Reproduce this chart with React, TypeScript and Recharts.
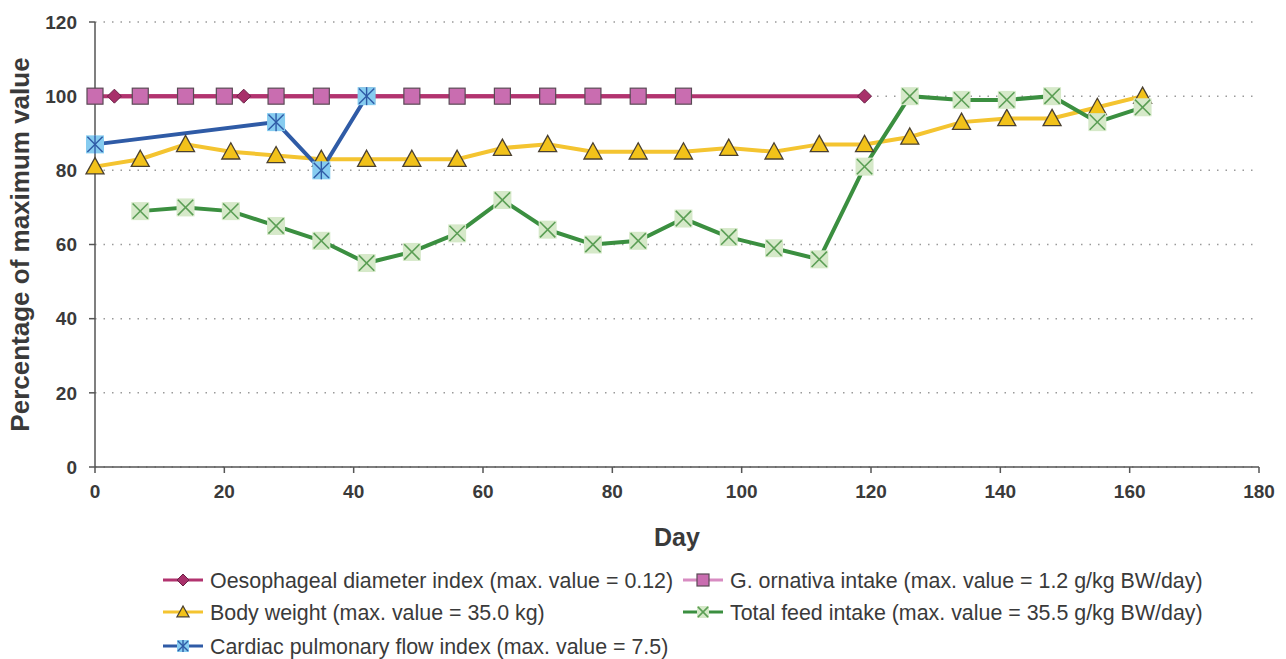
import { LineChart, Line, XAxis, YAxis, CartesianGrid } from 'recharts';

// days and % of max value
const oesDays = [3, 23, 119];
const oesValues = [100, 100, 100];

const ornDays = [0, 7, 14, 20, 28, 35, 42, 49, 56, 63, 70, 77, 84, 91];
const ornValues = [100, 100, 100, 100, 100, 100, 100, 100, 100, 100, 100, 100, 100, 100];

const bwDays = [0, 7, 14, 21, 28, 35, 42, 49, 56, 63, 70, 77, 84, 91, 98, 105, 112, 119, 126, 134, 141, 148, 155, 162];
const bwValues = [81, 83, 87, 85, 84, 83, 83, 83, 83, 86, 87, 85, 85, 85, 86, 85, 87, 87, 89, 93, 94, 94, 97, 100];

const tfiDays = [7, 14, 21, 28, 35, 42, 49, 56, 63, 70, 77, 84, 91, 98, 105, 112, 119, 126, 134, 141, 148, 155, 162];
const tfiValues = [69, 70, 69, 65, 61, 55, 58, 63, 72, 64, 60, 61, 67, 62, 59, 56, 81, 100, 99, 99, 100, 93, 97];

const cpfDays = [0, 28, 35, 42];
const cpfValues = [87, 93, 80, 100];

const xTicks = [0, 20, 40, 60, 80, 100, 120, 140, 160, 180];
const yTicks = [0, 20, 40, 60, 80, 100, 120];

const legendLabels = [
  'Oesophageal diameter index (max. value = 0.12)',
  'G. ornativa intake (max. value = 1.2 g/kg BW/day)',
  'Body weight (max. value = 35.0 kg)',
  'Total feed intake (max. value = 35.5 g/kg BW/day)',
  'Cardiac pulmonary flow index (max. value = 7.5)',
];

const toRows = (days: number[], values: number[]) =>
  days.map((day, i) => ({ day, value: values[i] }));

const FONT = '"Liberation Sans", Arial, sans-serif';
const TEXT = '#3a3a3a';

const C = {
  oes: '#b2336f',
  oesFill: '#a8306a',
  orn: '#d88cc2',
  ornFill: '#c96db0',
  bw: '#f4c430',
  bwFill: '#f2c21a',
  tfi: '#3b8f40',
  tfiFill: '#d6e9c9',
  tfiX: '#5b9e55',
  cpf: '#2f5ba6',
  cpfFill: '#86ccf0',
};

function Diamond({ cx, cy, s = 7 }: any) {
  if (cx == null || cy == null) return null;
  return (
    <polygon
      points={`${cx},${cy - s} ${cx + s},${cy} ${cx},${cy + s} ${cx - s},${cy}`}
      fill={C.oesFill}
      stroke="#6a2246"
      strokeWidth={1}
    />
  );
}

function Square({ cx, cy, s = 8 }: any) {
  if (cx == null || cy == null) return null;
  return <rect x={cx - s} y={cy - s} width={s * 2} height={s * 2} fill={C.ornFill} stroke="#5a4a55" strokeWidth={1.2} />;
}

function Triangle({ cx, cy, s = 9 }: any) {
  if (cx == null || cy == null) return null;
  return (
    <polygon
      points={`${cx},${cy - s} ${cx + s},${cy + s * 0.8} ${cx - s},${cy + s * 0.8}`}
      fill={C.bwFill}
      stroke="#4a4030"
      strokeWidth={1.3}
    />
  );
}

function CrossBox({ cx, cy, s = 9 }: any) {
  if (cx == null || cy == null) return null;
  const k = s * 0.85;
  return (
    <g>
      <rect x={cx - s} y={cy - s} width={s * 2} height={s * 2} fill={C.tfiFill} />
      <line x1={cx - k} y1={cy - k} x2={cx + k} y2={cy + k} stroke={C.tfiX} strokeWidth={1.6} />
      <line x1={cx - k} y1={cy + k} x2={cx + k} y2={cy - k} stroke={C.tfiX} strokeWidth={1.6} />
    </g>
  );
}

function StarBox({ cx, cy, s = 9 }: any) {
  if (cx == null || cy == null) return null;
  const k = s * 0.85;
  return (
    <g>
      <rect x={cx - s} y={cy - s} width={s * 2} height={s * 2} fill={C.cpfFill} />
      <line x1={cx - k} y1={cy - k} x2={cx + k} y2={cy + k} stroke={C.cpf} strokeWidth={1.4} />
      <line x1={cx - k} y1={cy + k} x2={cx + k} y2={cy - k} stroke={C.cpf} strokeWidth={1.4} />
      <line x1={cx} y1={cy - s} x2={cx} y2={cy + s} stroke={C.cpf} strokeWidth={1.4} />
    </g>
  );
}

function LegendItem({ x, y, color, label, Marker }: any) {
  return (
    <g>
      <line x1={x} y1={y} x2={x + 40} y2={y} stroke={color} strokeWidth={3} />
      <Marker cx={x + 20} cy={y} s={6} />
      <text x={x + 47} y={y} dy="0.36em" fontSize={21.4} fill={TEXT} fontFamily={FONT}>
        {label}
      </text>
    </g>
  );
}

export default function App() {
  return (
    <div style={{ position: 'relative', width: 1286, height: 659, margin: '-8px 0 0 -8px', background: '#fff' }}>
      <LineChart width={1286} height={659} margin={{ top: 22, right: 27, bottom: 102, left: 0 }}>
        <CartesianGrid vertical={false} stroke="#9a9a9a" strokeDasharray="1.5 7" strokeWidth={1.5} />
        <XAxis
          type="number"
          dataKey="day"
          domain={[0, 180]}
          ticks={xTicks}
          allowDuplicatedCategory={false}
          height={90}
          stroke="#555"
          strokeWidth={1.5}
          tickSize={6}
          tickMargin={12}
          tick={{ fill: TEXT, fontSize: 19, fontWeight: 700, fontFamily: FONT }}
          label={{
            value: 'Day',
            position: 'insideBottom',
            offset: 11,
            style: { fill: TEXT, fontSize: 25, fontWeight: 700, fontFamily: FONT },
          }}
        />
        <YAxis
          type="number"
          domain={[0, 120]}
          ticks={yTicks}
          width={95}
          stroke="#555"
          strokeWidth={1.5}
          tickSize={6}
          tickMargin={12}
          tick={{ fill: TEXT, fontSize: 19, fontWeight: 700, fontFamily: FONT }}
          label={{
            value: 'Percentage of maximum value',
            angle: -90,
            position: 'insideLeft',
            offset: 20,
            style: { textAnchor: 'middle', fill: TEXT, fontSize: 26, fontWeight: 700, fontFamily: FONT },
          }}
        />
        <Line data={toRows(oesDays, oesValues)} dataKey="value" stroke={C.oes} strokeWidth={4} dot={<Diamond />} activeDot={false} isAnimationActive={false} />
        <Line data={toRows(ornDays, ornValues)} dataKey="value" stroke={C.oes} strokeWidth={4} dot={<Square />} activeDot={false} isAnimationActive={false} />
        <Line data={toRows(bwDays, bwValues)} dataKey="value" stroke={C.bw} strokeWidth={4} dot={<Triangle />} activeDot={false} isAnimationActive={false} />
        <Line data={toRows(tfiDays, tfiValues)} dataKey="value" stroke={C.tfi} strokeWidth={4} dot={<CrossBox />} activeDot={false} isAnimationActive={false} />
        <Line data={toRows(cpfDays, cpfValues)} dataKey="value" stroke={C.cpf} strokeWidth={4} dot={<StarBox />} activeDot={false} isAnimationActive={false} />
      </LineChart>
      <svg width={1286} height={659} style={{ position: 'absolute', left: 0, top: 0, pointerEvents: 'none' }}>
        <LegendItem x={163} y={580} color={C.oes} label={legendLabels[0]} Marker={Diamond} />
        <LegendItem x={683} y={580} color={C.orn} label={legendLabels[1]} Marker={Square} />
        <LegendItem x={163} y={612} color={C.bw} label={legendLabels[2]} Marker={Triangle} />
        <LegendItem x={683} y={612} color={C.tfi} label={legendLabels[3]} Marker={CrossBox} />
        <LegendItem x={163} y={646} color={C.cpf} label={legendLabels[4]} Marker={StarBox} />
      </svg>
    </div>
  );
}
